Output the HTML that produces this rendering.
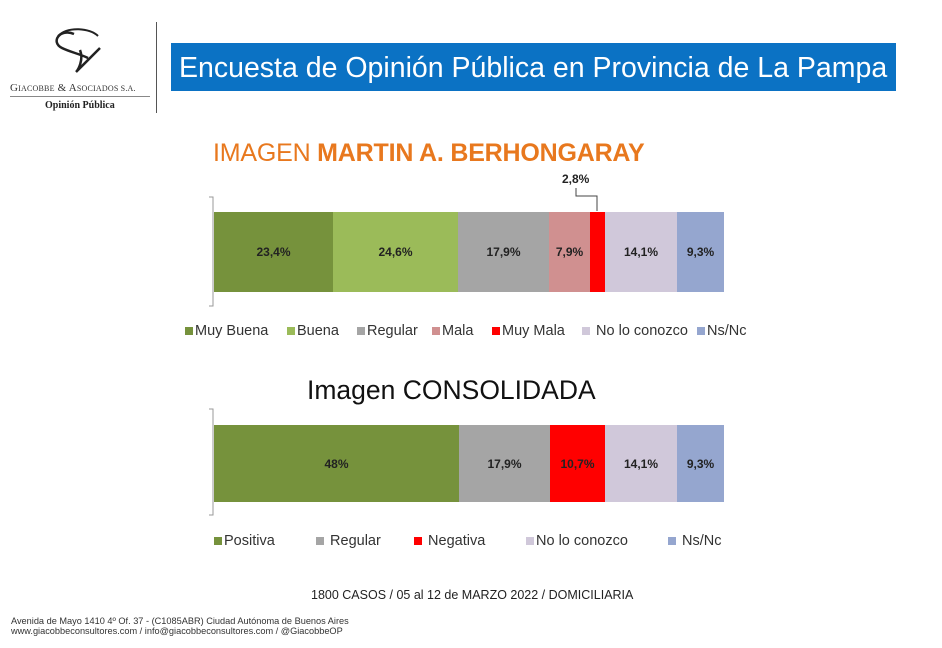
<!DOCTYPE html>
<html><head><meta charset="utf-8"><style>
body{margin:0;width:942px;height:648px;background:#fff;position:relative;overflow:hidden;font-family:"Liberation Sans",sans-serif}
.a{position:absolute}
.seg{position:absolute;display:flex;align-items:center;justify-content:center;font-weight:bold;font-size:12px;color:#222}
.lg{position:absolute;font-size:14.5px;color:#333;white-space:nowrap;line-height:16px}
.sq{display:inline-block;width:8px;height:8px;margin-right:2px;vertical-align:0}
</style></head><body>
<svg class="a" style="left:40px;top:24px" width="80" height="56" viewBox="0 0 80 56"><path d="M34 10 C20 4 10 18 22 24 C30 28 40 30 48 34 M40 26 C44 36 38 46 36 48 C44 40 54 30 60 24" stroke="#222" stroke-width="2.5" fill="none"/><path d="M18 12 C28 2 50 4 58 12" stroke="#222" stroke-width="2" fill="none"/></svg>
<div class="a" style="left:10px;top:82px;font-family:'Liberation Serif',serif;font-size:11px;color:#333;letter-spacing:0.2px">G<span style="font-size:8px">IACOBBE</span> &amp; A<span style="font-size:8px">SOCIADOS S.A.</span></div>
<div class="a" style="left:10px;top:96px;width:140px;border-top:1px solid #888"></div>
<div class="a" style="left:45px;top:100px;font-family:'Liberation Serif',serif;font-size:10px;font-weight:bold;color:#222">Opinión Pública</div>
<div class="a" style="left:156px;top:22px;width:1px;height:91px;background:#555"></div>
<div class="a" style="left:171px;top:43px;width:725px;height:48px;background:#0b72c4;color:#fff;font-size:28.5px;line-height:50px;padding-left:8px;box-sizing:border-box;white-space:nowrap">Encuesta de Opinión Pública en Provincia de La Pampa</div>
<div class="a" style="left:213px;top:139px;font-size:25px;color:#e8781e;white-space:nowrap;letter-spacing:-0.2px">IMAGEN <b>MARTIN A. BERHONGARAY</b></div>
<div class="a" style="left:562px;top:172px;font-size:12px;font-weight:bold;color:#222">2,8%</div>
<svg class="a" style="left:0;top:0" width="942" height="648"><path d="M576 188 V196 H597 V211" stroke="#444" fill="none" stroke-width="1"/>
<path d="M209 197 H213 V306 H209" stroke="#999" fill="none"/><path d="M209 409 H213 V515 H209" stroke="#999" fill="none"/></svg>
<div class="seg" style="left:214px;top:212px;width:119px;height:80px;background:#76923c">23,4%</div>
<div class="seg" style="left:333px;top:212px;width:125px;height:80px;background:#9bbb59">24,6%</div>
<div class="seg" style="left:458px;top:212px;width:91px;height:80px;background:#a5a5a5">17,9%</div>
<div class="seg" style="left:549px;top:212px;width:41px;height:80px;background:#d09090">7,9%</div>
<div class="seg" style="left:590px;top:212px;width:15px;height:80px;background:#ff0000"></div>
<div class="seg" style="left:605px;top:212px;width:72px;height:80px;background:#d0c8da">14,1%</div>
<div class="seg" style="left:677px;top:212px;width:47px;height:80px;background:#95a6cf">9,3%</div>
<div class="lg" style="left:185px;top:323px"><span class="sq" style="background:#76923c"></span>Muy Buena</div>
<div class="lg" style="left:287px;top:323px"><span class="sq" style="background:#9bbb59"></span>Buena</div>
<div class="lg" style="left:357px;top:323px"><span class="sq" style="background:#a5a5a5"></span>Regular</div>
<div class="lg" style="left:432px;top:323px"><span class="sq" style="background:#d09090"></span>Mala</div>
<div class="lg" style="left:492px;top:323px"><span class="sq" style="background:#ff0000"></span>Muy Mala</div>
<div class="lg" style="left:582px;top:323px"><span class="sq" style="background:#d0c8da"></span> No lo conozco</div>
<div class="lg" style="left:697px;top:323px"><span class="sq" style="background:#95a6cf"></span>Ns/Nc</div>
<div class="a" style="left:307px;top:375px;font-size:26.5px;color:#111;white-space:nowrap">Imagen CONSOLIDADA</div>
<div class="seg" style="left:214px;top:425px;width:245px;height:77px;background:#76923c">48%</div>
<div class="seg" style="left:459px;top:425px;width:91px;height:77px;background:#a5a5a5">17,9%</div>
<div class="seg" style="left:550px;top:425px;width:55px;height:77px;background:#ff0000">10,7%</div>
<div class="seg" style="left:605px;top:425px;width:72px;height:77px;background:#d0c8da">14,1%</div>
<div class="seg" style="left:677px;top:425px;width:47px;height:77px;background:#95a6cf">9,3%</div>
<div class="lg" style="left:214px;top:533px"><span class="sq" style="background:#76923c"></span>Positiva</div>
<div class="lg" style="left:316px;top:533px"><span class="sq" style="background:#a5a5a5"></span> Regular</div>
<div class="lg" style="left:414px;top:533px"><span class="sq" style="background:#ff0000"></span> Negativa</div>
<div class="lg" style="left:526px;top:533px"><span class="sq" style="background:#d0c8da"></span>No lo conozco</div>
<div class="lg" style="left:668px;top:533px"><span class="sq" style="background:#95a6cf"></span> Ns/Nc</div>
<div class="a" style="left:311px;top:588px;font-size:12.5px;color:#222;white-space:nowrap">1800 CASOS / 05 al 12 de MARZO 2022 / DOMICILIARIA</div>
<div class="a" style="left:11px;top:616px;font-size:9.2px;color:#333;line-height:10px;white-space:nowrap">Avenida de Mayo 1410 4º Of. 37 - (C1085ABR) Ciudad Autónoma de Buenos Aires<br>www.giacobbeconsultores.com / info@giacobbeconsultores.com / @GiacobbeOP</div>
</body></html>
